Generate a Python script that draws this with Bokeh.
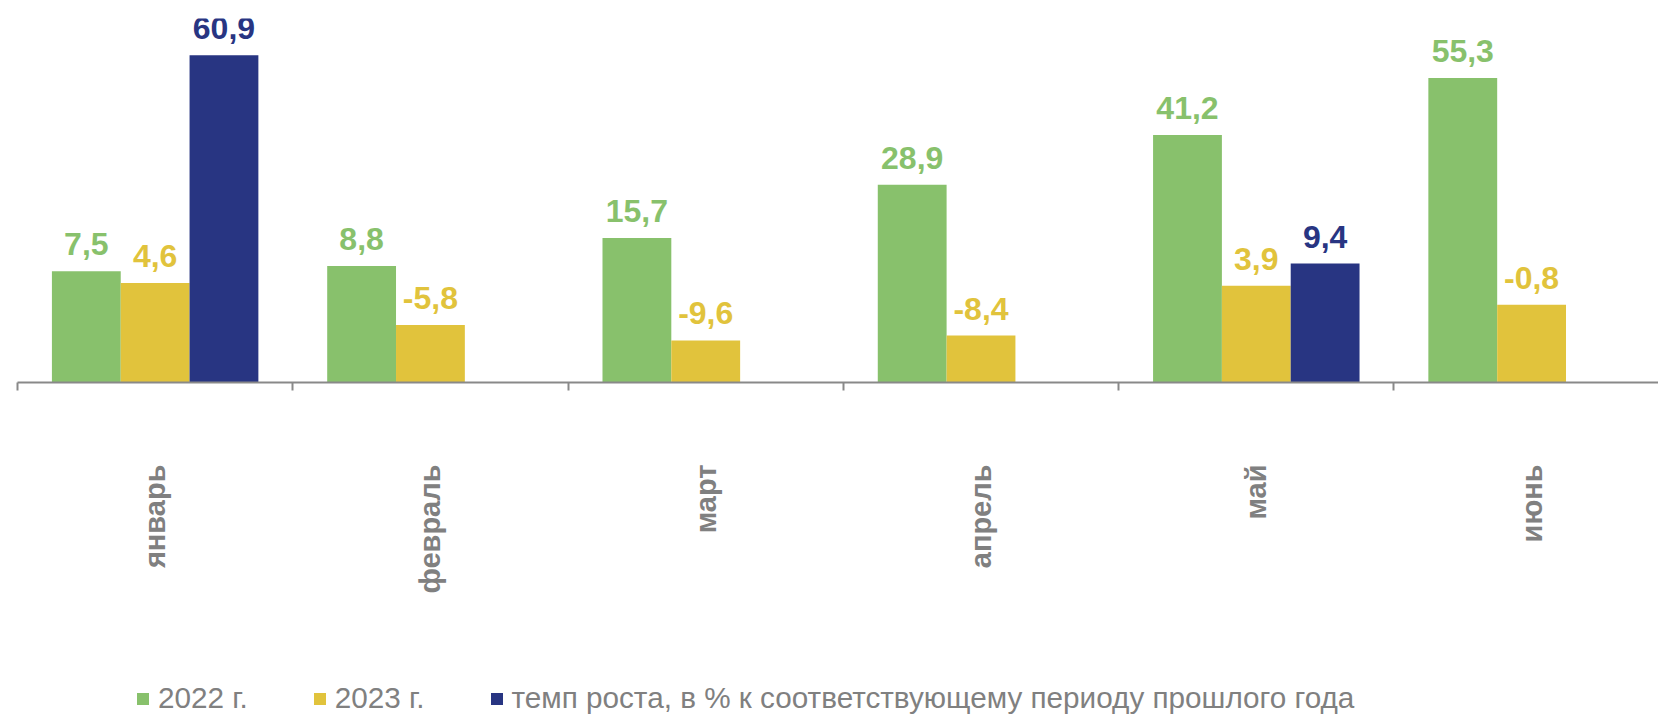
from bokeh.plotting import figure
from bokeh.models import Range1d, FixedTicker, Legend, LegendItem, ColumnDataSource
from bokeh.layouts import column
from bokeh.core.properties import value
from bokeh.embed import file_html
from bokeh.resources import INLINE

months = ["январь", "февраль", "март", "апрель", "май", "июнь"]
v2022 = [7.5, 8.8, 15.7, 28.9, 41.2, 55.3]
v2023 = [4.6, -5.8, -9.6, -8.4, 3.9, -0.8]
growth_months = [0, 4]
growth = [60.9, 9.4]
series_names = ["2022 г.", "2023 г.", "темп роста, в % к соответствующему периоду прошлого года"]
colors = ["#88C16C", "#E1C33C", "#283582"]

Y_MIN, Y_MAX = -20, 70
BAR_W = 0.25
FONT = "Liberation Sans"

def fmt(v):
    return ("%.1f" % v).replace(".", ",")

p = figure(width=1658, height=675, output_backend="svg", toolbar_location=None,
           x_range=Range1d(0, 5.961), y_range=Range1d(Y_MIN, Y_MAX),
           y_axis_location=None, min_border_left=17, min_border_right=0,
           min_border_top=18, min_border_bottom=293)
p.outline_line_color = None
p.grid.visible = False

series = [
    ([i + 0.25 for i in range(len(months))], v2022, colors[0]),
    ([i + 0.5 for i in range(len(months))], v2023, colors[1]),
    ([i + 0.75 for i in growth_months], growth, colors[2]),
]
for xs, vals, col in series:
    src = ColumnDataSource(dict(x=xs, top=vals, lab=[fmt(v) for v in vals]))
    p.vbar(x="x", top="top", bottom=Y_MIN, width=BAR_W, source=src,
           fill_color=col, line_color=None)
    p.text(x="x", y="top", text="lab", source=src, y_offset=-27,
           text_align="center", text_baseline="alphabetic",
           text_font=value(FONT), text_font_style="bold",
           text_font_size="32px", text_color=col)

ax = p.xaxis[0]
ax.ticker = FixedTicker(ticks=[i + 0.5 for i in range(len(months))],
                        minor_ticks=list(range(len(months) + 1)))
ax.major_label_overrides = {i + 0.5: m for i, m in enumerate(months)}
ax.major_label_orientation = 3.14159265 / 2
ax.major_tick_out = 0
ax.major_tick_in = 0
ax.minor_tick_out = 8
ax.minor_tick_in = 0
ax.minor_tick_line_color = "#898989"
ax.minor_tick_line_width = 2
ax.axis_line_color = "#898989"
ax.axis_line_width = 2
ax.major_label_standoff = 74
ax.major_label_text_font = FONT
ax.major_label_text_font_style = "bold"
ax.major_label_text_font_size = "29px"
ax.major_label_text_color = "#808080"

# legend strip (its swatch bars lie outside the strip's visible range)
lg = figure(width=1658, height=40, output_backend="svg", toolbar_location=None,
            x_range=Range1d(0, 1), y_range=Range1d(0, 1),
            x_axis_location=None, y_axis_location=None,
            min_border_left=0, min_border_right=0, min_border_top=0, min_border_bottom=0)
lg.outline_line_color = None
lg.grid.visible = False
leg_renderers = [lg.vbar(x=[-5], top=[-5], bottom=[-6], width=0.1, fill_color=c, line_color=None)
                 for c in colors]
legend = Legend(items=[LegendItem(label=n, renderers=[r]) for n, r in zip(series_names, leg_renderers)],
                orientation="horizontal", location=(118, 0),
                glyph_width=15, glyph_height=15, label_standoff=8, spacing=64,
                label_text_font=FONT, label_text_font_size="29.7px",
                label_text_color="#808080", padding=0, margin=0,
                border_line_color=None, background_fill_alpha=0)
lg.add_layout(legend, "center")

layout = column(p, lg, spacing=0)
open("out.html", "w").write(file_html(layout, INLINE))
